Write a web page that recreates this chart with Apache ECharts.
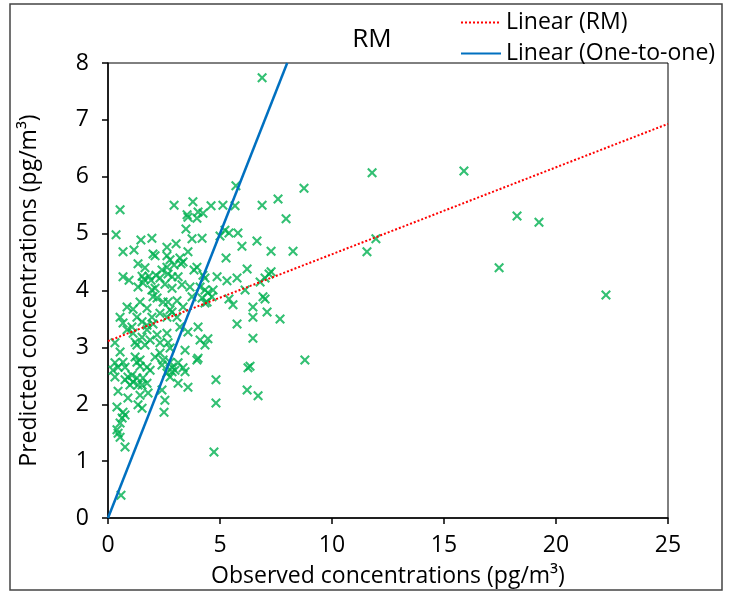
<!DOCTYPE html>
<html lang="en">

<head>
    <meta http-equiv="content-type" content="text/html; charset=utf-8"/>
    <title>RM</title>
    <script src="https://cdn.jsdelivr.net/npm/echarts@6.0.0/dist/echarts.min.js"></script>
    <style>
        html, body {
            height: 100%;
            margin: 0;
            background: #fff;
        }

        .chart {
            width: 731px;
            height: 595px;
        }
    </style>
</head>

<body>
<div class="chart"></div>
<script>
    // observed (x) / predicted (y) pairs
    const observed = [
        6.88, 15.89, 11.79, 8.75, 18.26, 19.24, 17.46, 22.23, 11.96, 11.56, 8.79, 7.95, 8.26, 7.28, 7.28, 7.68, 7.59, 6.88, 5.71,
        0.54, 2.95, 3.79, 4.60, 5.13, 5.67, 3.53, 3.57, 4.02, 4.24, 3.97, 3.48, 0.36, 1.47, 1.96, 3.04, 2.63, 3.75, 4.20,
        5.22, 5.40, 5.80, 5.00, 6.65, 5.98, 0.67, 1.16, 2.01, 2.10, 2.63, 2.77, 3.21, 3.35, 3.57, 5.27,
        1.34, 1.65, 2.41, 2.63, 2.95, 3.26, 2.68, 3.97, 3.84, 6.21, 0.67, 0.94, 1.52, 1.61, 1.83, 1.92, 2.14, 2.32,
        2.86, 3.13, 4.24, 4.33, 4.87, 5.31, 5.76, 6.79, 7.01, 7.19, 1.34, 1.56, 1.96, 2.10, 2.54, 2.86, 3.30, 3.66,
        4.11, 4.33, 4.46, 4.69, 4.64, 4.33, 4.20, 5.40, 5.58, 6.12, 6.92, 7.01, 6.47, 6.47, 7.10, 5.76,
        0.85, 1.12, 1.43, 1.74, 2.01, 2.19, 2.46, 2.68, 2.77, 3.08, 3.35, 3.75, 4.42, 0.54, 0.67, 1.29, 1.52, 1.96,
        2.32, 2.63, 2.86, 1.74, 2.01, 3.08, 3.21, 4.02, 0.85, 1.07, 1.12, 1.52, 1.74, 1.88, 2.19, 2.63, 3.57, 4.11,
        4.46, 4.33, 6.47, 0.31, 0.54, 1.21, 1.29, 1.65, 2.32, 2.68, 2.77, 3.44, 0.31, 0.45, 0.22, 0.67, 0.76, 1.21,
        1.29, 1.43, 1.43, 1.74, 1.88, 2.10, 2.32, 2.46, 2.41, 2.77, 2.86, 2.99, 3.13, 3.35, 3.44, 3.97, 4.02,
        0.31, 0.76, 0.89, 1.07, 1.12, 1.29, 1.56, 1.52, 1.74, 2.63, 2.77, 2.86, 3.13, 3.57, 4.82, 6.25, 6.34, 6.21, 6.70,
        0.45, 0.89, 1.43, 1.79, 2.41, 2.54, 0.40, 1.34, 1.52, 2.50, 4.82, 0.67, 0.76, 0.63, 0.54, 0.40, 0.45, 0.54,
        0.76, 4.73, 0.58, 1.34, 0.98
    ];
    const predicted = [
        7.74, 6.10, 6.07, 5.80, 5.31, 5.20, 4.40, 3.92, 4.91, 4.68, 2.78, 5.26, 4.69, 4.69, 4.33, 3.50, 5.61, 5.50, 5.84,
        5.42, 5.50, 5.56, 5.49, 5.50, 5.49, 5.33, 5.29, 5.38, 5.36, 5.27, 5.08, 4.98, 4.89, 4.92, 4.82, 4.76, 4.91, 4.92,
        5.06, 5.01, 5.01, 4.96, 4.87, 4.78, 4.68, 4.71, 4.64, 4.61, 4.61, 4.54, 4.57, 4.50, 4.68, 4.57,
        4.47, 4.40, 4.36, 4.41, 4.45, 4.47, 4.29, 4.41, 4.36, 4.38, 4.24, 4.18, 4.25, 4.20, 4.25, 4.18, 4.27, 4.22,
        4.24, 4.24, 4.27, 4.22, 4.24, 4.17, 4.22, 4.15, 4.22, 4.29, 4.06, 4.13, 4.01, 4.04, 4.11, 4.04, 4.10, 4.06,
        4.06, 4.01, 3.96, 4.01, 3.89, 3.78, 3.87, 3.85, 3.75, 4.01, 3.89, 3.85, 3.71, 3.53, 3.62, 3.41,
        3.71, 3.67, 3.80, 3.69, 3.89, 3.87, 3.80, 3.80, 3.66, 3.82, 3.71, 3.89, 3.80, 3.53, 3.43, 3.53, 3.45, 3.53,
        3.60, 3.53, 3.62, 3.39, 3.41, 3.53, 3.36, 3.36, 3.31, 3.36, 3.25, 3.18, 3.31, 3.13, 3.22, 3.25, 3.27, 3.13,
        3.15, 3.04, 3.16, 3.08, 2.92, 3.09, 3.04, 3.04, 3.08, 3.08, 2.99, 2.95, 2.73, 2.65, 2.60, 2.74, 2.65, 2.83,
        2.74, 2.78, 2.67, 2.65, 2.60, 2.83, 2.90, 2.78, 2.69, 2.74, 2.65, 2.60, 2.73, 2.64, 2.57, 2.78, 2.81,
        2.48, 2.43, 2.48, 2.51, 2.39, 2.46, 2.46, 2.34, 2.37, 2.55, 2.48, 2.57, 2.37, 2.30, 2.43, 2.64, 2.67, 2.25, 2.15,
        2.23, 2.11, 2.16, 2.20, 2.25, 2.07, 1.95, 1.99, 1.93, 1.86, 2.02, 1.86, 1.81, 1.76, 1.67, 1.55, 1.49, 1.42,
        1.25, 1.16, 0.40, 2.34, 2.34
    ];
    // trend lines as drawn in the picture
    const rmLineX = [0, 25];
    const rmLineY = [3.11, 6.93];
    const oneLineX = [0, 8];
    const oneLineY = [0, 8];

    const xTicks = {min: 0, max: 25, interval: 5};
    const yTicks = {min: 0, max: 8, interval: 1};

    const font = "Open Sans";
    const crossMark = "path://M0,1.5L1.5,0L5,3.5L8.5,0L10,1.5L6.5,5L10,8.5L8.5,10L5,6.5L1.5,10L0,8.5L3.5,5Z";

    const chart = echarts.init(document.querySelector(".chart"));
    const option = {
        animation: false,
        backgroundColor: "#fff",
        textStyle: {fontFamily: font, color: "#000"},
        title: {
            text: "RM",
            left: 367,
            top: 22,
            textAlign: "center",
            textStyle: {fontFamily: font, fontSize: 26, fontWeight: "normal", color: "#000"}
        },
        legend: {
            orient: "vertical",
            left: 455,
            top: 6,
            itemWidth: 40,
            itemHeight: 14,
            itemGap: 8,
            itemStyle: {opacity: 0},
            textStyle: {fontFamily: font, fontSize: 23, color: "#000"},
            data: ["Linear (RM)", "Linear (One-to-one)"]
        },
        graphic: [{
            type: "rect",
            shape: {x: 10, y: 4, width: 712, height: 586},
            style: {fill: "none", stroke: "#444", lineWidth: 1.5},
            silent: true
        }],
        grid: {
            left: 108,
            right: 63,
            top: 63,
            bottom: 77,
            show: true,
            borderColor: "#000",
            borderWidth: 1
        },
        xAxis: {
            type: "value",
            min: xTicks.min,
            max: xTicks.max,
            interval: xTicks.interval,
            name: "Observed concentrations (pg/m³)",
            nameLocation: "middle",
            nameGap: 47,
            nameTextStyle: {fontFamily: font, fontSize: 23, color: "#000"},
            axisLine: {show: true, lineStyle: {color: "#000", width: 1.5}},
            axisTick: {show: true, length: 6, lineStyle: {color: "#000", width: 1.5}},
            axisLabel: {fontFamily: font, fontSize: 23, color: "#000", margin: 16},
            splitLine: {show: false}
        },
        yAxis: {
            type: "value",
            min: yTicks.min,
            max: yTicks.max,
            interval: yTicks.interval,
            name: "Predicted concentrations (pg/m³)",
            nameLocation: "middle",
            nameGap: 67,
            nameTextStyle: {fontFamily: font, fontSize: 23, color: "#000"},
            axisLine: {show: true, lineStyle: {color: "#000", width: 1.5}},
            axisTick: {show: true, length: 6, lineStyle: {color: "#000", width: 1.5}},
            axisLabel: {fontFamily: font, fontSize: 23, color: "#000", margin: 19},
            splitLine: {show: false}
        },
        series: [
            {
                name: "RM",
                type: "scatter",
                symbol: crossMark,
                symbolSize: 10,
                itemStyle: {color: "#00B050"},
                data: observed.map((x, i) => [x, predicted[i]]),
                z: 2
            },
            {
                name: "Linear (RM)",
                type: "line",
                symbol: "none",
                lineStyle: {color: "#FF0000", width: 2, type: [2, 2]},
                itemStyle: {color: "#FF0000"},
                data: rmLineX.map((x, i) => [x, rmLineY[i]]),
                z: 3
            },
            {
                name: "Linear (One-to-one)",
                type: "line",
                symbol: "none",
                lineStyle: {color: "#0070C0", width: 2.5},
                itemStyle: {color: "#0070C0"},
                data: oneLineX.map((x, i) => [x, oneLineY[i]]),
                z: 4
            }
        ]
    };
    chart.setOption(option);
</script>
</body>

</html>
